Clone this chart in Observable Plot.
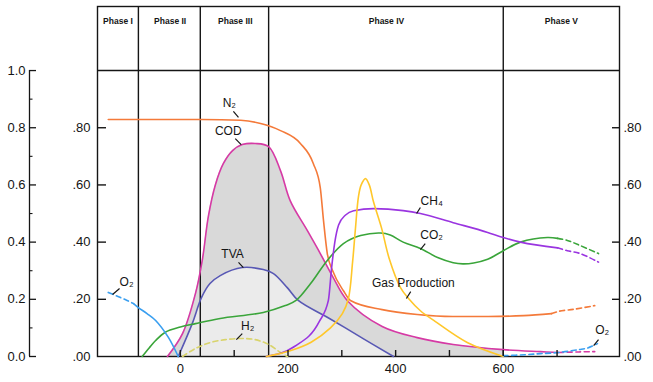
<!DOCTYPE html>
<html><head><meta charset="utf-8">
<script src="https://cdn.jsdelivr.net/npm/d3@7"></script>
<script src="https://cdn.jsdelivr.net/npm/@observablehq/plot@0.6"></script>
<style>body{margin:0;background:#fff}svg{display:block}</style>
</head><body><div id="chart"></div>
<script>
// ---- data (time on x, relative concentration on y) ----
const phaseNames   = ["Phase I","Phase II","Phase III","Phase IV","Phase V"];
const phaseCenters = [-116, -19, 102, 383, 708];
const phaseBounds  = [-78, 37, 164, 600];
const xTicks  = [0,100,200,300,400,500,600,700];
const xLabels = [0,200,400,600];
const yTicks  = [0,0.2,0.4,0.6,0.8];
const outerTicks = [0,0.2,0.4,0.6,0.8,1.0];
const outerMinor = [0.1,0.3,0.5,0.7,0.9];

const n2 = [[-134,.829],[-60,.829],[40,.829],[112,.826],[149,.815],[186,.79],[223,.745],[247,.675],[260,.59],[266,.475],[273,.36],[283,.30],[303,.23],[316,.196],[375,.164],[440,.147],[506,.14],[572,.14],[638,.143],[690,.15]];
const n2Tail = [[690,.15],[703,.158],[734,.166],[770,.178]];
const cod = [[-24,0],[4,.08],[28,.22],[41,.34],[52,.49],[65,.60],[80,.675],[97,.72],[115,.741],[139,.745],[164,.734],[186,.65],[204,.545],[236,.44],[260,.36],[284,.276],[310,.196],[375,.105],[440,.066],[507,.042],[600,.024],[669,.017],[703,.014]];
const codTail = [[703,.014],[740,.016],[770,.017]];
const tva = [[-4,0],[22,.115],[39,.205],[55,.255],[74,.283],[115,.311],[154,.304],[173,.29],[199,.24],[219,.196],[277,.133],[342,.06],[396,0]];
const h2 = [[4,0],[28,.028],[56,.049],[84,.059],[112,.063],[139,.059],[164,.042],[186,.014],[199,0]];
const co2 = [[-71,0],[-58,.03],[-46,.056],[-28,.085],[0,.103],[28,.115],[74,.133],[154,.154],[195,.178],[215,.196],[242,.255],[273,.336],[303,.395],[335,.423],[372,.432],[390,.425],[414,.40],[446,.378],[478,.346],[507,.328],[525,.324],[545,.327],[571,.340],[600,.37],[632,.40],[682,.416],[701,.413]];
const co2Tail = [[701,.413],[719,.406],[743,.388],[777,.36]];
const ch4 = [[160,0],[212,.035],[258,.122],[275,.196],[281,.31],[287,.40],[294,.46],[307,.495],[322,.51],[359,.517],[414,.51],[446,.50],[507,.468],[571,.434],[600,.416],[632,.40],[701,.38]];
const ch4Tail = [[701,.38],[719,.37],[743,.36],[777,.33]];
const gas = [[160,0],[204,.02],[243,.05],[279,.10],[301,.15],[312,.20],[320,.33],[325,.44],[331,.56],[336,.60],[344,.622],[351,.60],[359,.54],[374,.448],[388,.343],[409,.241],[424,.203],[446,.16],[474,.122],[533,.049],[600,0]];
const o2Head = [[-134,.224],[-116,.21],[-99,.196],[-87,.185]];
const o2 = [[-87,.185],[-78,.171],[-62,.15],[-46,.126],[-22,.066],[-4,0]];
const o2Tail = [[600,.003],[640,.006],[669,.01],[703,.014],[740,.024],[757,.03],[775,.045]];

const labelText   = ["N₂","COD","TVA","H₂","O₂","CH₄","CO₂","Gas Production","O₂"];
const labelX      = [91, 89, 97, 125, -100, 467, 467, 433, 784];
const labelY      = [.885, .787, .357, .105, .259, .545, .423, .255, .091];
const labelAnchor = ["middle","middle","middle","middle","middle","middle","middle","start","middle"];
const ptrX1 = [98.5, 102, 108, 115, -113, 446, 455, 428, 777];
const ptrY1 = [.857, .762, .329, .080, .238, .521, .395, .227, .059];
const ptrX2 = [108, 113, 117, 104, -126, 439, 446, 420, 768];
const ptrY2 = [.836, .741, .311, .059, .217, .50, .374, .203, .038];

// ---- layout ----
const W = 653, H = 382, mL = 97, mR = 34, mT = 6, mB = 26;
const xDom = [-154, 816], yDom = [0, 1.224];
const pw = W - mL - mR, ph = H - mT - mB;
const ux = (xDom[1] - xDom[0]) / pw;
const xOuter = xDom[0] - 68 * ux;
const ink = "#151515";
const smooth = "catmull-rom";

const series = [
  {pts: n2, color: "#f47a3a", curve: "monotone-x"}, {pts: n2Tail, color: "#f47a3a", dash: true},
  {pts: cod, color: "#d63aa5"}, {pts: codTail, color: "#d63aa5", dash: true},
  {pts: tva, color: "#5858b4"},
  {pts: h2, color: "#d9d46c", dash: true},
  {pts: co2, color: "#3aa53a"}, {pts: co2Tail, color: "#3aa53a", dash: true},
  {pts: ch4, color: "#9a35e0", curve: "monotone-x"}, {pts: ch4Tail, color: "#9a35e0", dash: true},
  {pts: gas, color: "#ffc72a"},
  {pts: o2Head, color: "#3a9ff0", dash: true}, {pts: o2, color: "#3a9ff0"}, {pts: o2Tail, color: "#3a9ff0", dash: true}
];
const fmt = d => d.toFixed(2).replace(/^0/, "");
const idx = d3.range(labelText.length);

const chart = Plot.plot({
  width: W, height: H,
  marginLeft: mL, marginRight: mR, marginTop: mT, marginBottom: mB,
  x: {domain: xDom},
  y: {domain: yDom},
  style: {fontFamily: "'Liberation Sans', Arial, sans-serif", fontSize: "12px", background: "#fff", color: ink},
  marks: [
    Plot.areaY(cod.filter(d => d[0] <= 600), {x: d => d[0], y: d => d[1], fill: "#d9d9d9", curve: smooth}),
    Plot.areaY(tva, {x: d => d[0], y: d => d[1], fill: "#ebebeb", curve: smooth}),
    Plot.frame({stroke: ink, strokeWidth: 1.4}),
    Plot.ruleX(phaseBounds, {stroke: ink, strokeWidth: 1.4}),
    Plot.ruleY([1], {stroke: ink, strokeWidth: 1.4}),
    Plot.text(phaseNames, {x: (d, i) => phaseCenters[i], y: 1.171, text: d => d, fontSize: 8.5, fontWeight: 900}),
    ...series.map(s => Plot.line(s.pts, {x: d => d[0], y: d => d[1], stroke: s.color, strokeWidth: 1.6,
      curve: s.curve || smooth, strokeDasharray: s.dash ? "5,3.5" : null})),
    // inner tick marks
    Plot.tickY(yTicks.filter(d => d > 0), {y: d => d, insetRight: pw - 9, stroke: ink, strokeWidth: 1.4}),
    Plot.tickY(yTicks.filter(d => d > 0), {y: d => d, insetLeft: pw - 7, stroke: ink, strokeWidth: 1.4}),
    Plot.tickX(xTicks, {x: d => d, insetTop: ph - 6, stroke: ink, strokeWidth: 1.4}),
    Plot.axisY(yTicks, {anchor: "left", tickSize: 0, tickPadding: 7, tickFormat: fmt, fontSize: 13, label: null}),
    Plot.axisY(yTicks, {anchor: "right", tickSize: 0, tickPadding: 4, tickFormat: fmt, fontSize: 13, label: null}),
    Plot.axisX(xLabels, {anchor: "bottom", tickSize: 0, tickPadding: 7, tickFormat: d => String(d), fontSize: 13, label: null}),
    // outer relative scale
    Plot.ruleX([xOuter], {y1: 0, y2: 1, stroke: ink, strokeWidth: 1.3}),
    Plot.ruleY(outerTicks, {y: d => d, x1: xOuter, x2: xOuter + 7 * ux, stroke: ink, strokeWidth: 1.3}),
    Plot.ruleY(outerMinor, {y: d => d, x1: xOuter, x2: xOuter + 3.5 * ux, stroke: ink, strokeWidth: 1.1}),
    Plot.text(outerTicks, {x: xOuter, y: d => d, dx: -4, text: d => d.toFixed(1), textAnchor: "end", fontSize: 13}),
    // annotations
    Plot.link(idx, {x1: i => ptrX1[i], y1: i => ptrY1[i], x2: i => ptrX2[i], y2: i => ptrY2[i], stroke: ink, strokeWidth: 1.2}),
    Plot.text(idx, {x: i => labelX[i], y: i => labelY[i], text: i => labelText[i], textAnchor: i => labelAnchor[i], fontSize: 12, fill: ink})
  ]
});
document.getElementById("chart").appendChild(chart);
</script>
</body></html>
